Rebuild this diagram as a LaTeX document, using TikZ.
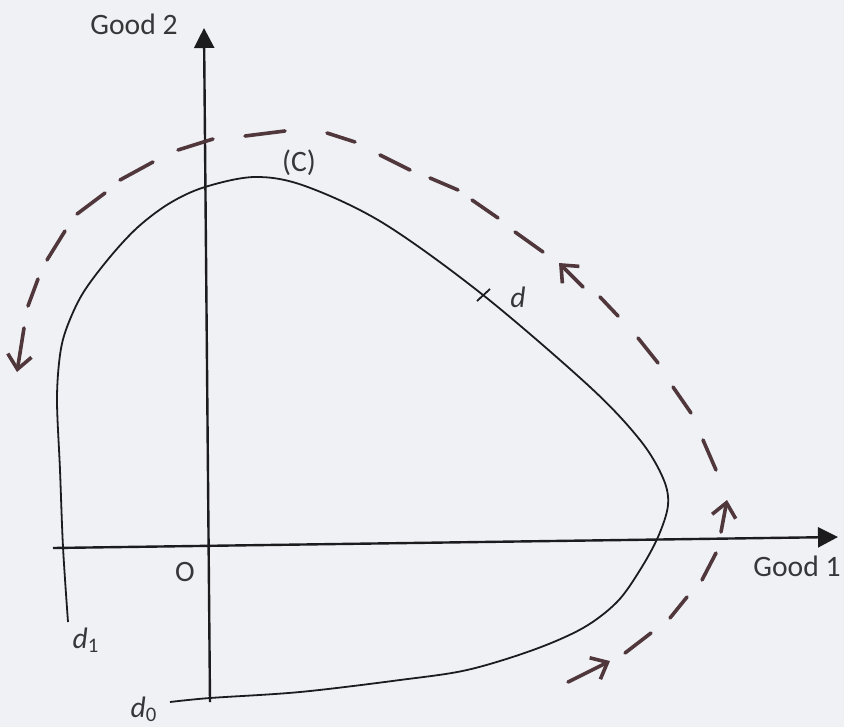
\documentclass[tikz,border=0pt]{standalone}
\usepackage{fontspec}
\setmainfont{Carlito}
\usetikzlibrary{arrows.meta}
\definecolor{paper}{RGB}{240,241,245}
\definecolor{ink}{RGB}{80,55,60}
\definecolor{pen}{RGB}{28,28,30}
\definecolor{lettering}{RGB}{55,55,58}

\begin{document}
\begin{tikzpicture}[x=0.5pt, y=-0.5pt, font=\fontsize{14.8}{17}\selectfont,
  axis/.style={line width=1.2pt, draw=pen, -{Triangle[length=10pt,width=10pt]}},
  budget/.style={line width=0.9pt, draw=pen},
  flow/.style={line width=1.8pt, draw=ink, line cap=round},
  flowtip/.style={flow, -{Straight Barb[length=7pt,width=12pt]}},
  lab/.style={text=lettering, inner sep=0pt}]
  \fill[paper] (0,0) rectangle (844,727);
  \useasboundingbox (0,0) rectangle (844,727);
  % axes
  \draw[axis] (53,548) -- (838,537);
  \draw[axis] (210,702) -- (204,28);
  % the curve (C)
  \draw[budget] plot[smooth, tension=0.55] coordinates {(68,622) (63,547) (60,470) (57,400)
    (60,355) (67,327) (83,293) (110,257) (138,227) (170,203) (205,187) (255,177) (305,186)
    (383,223) (483,295) (590,387) (640,440) (663,478) (668,505)
    (658,537) (640,570) (617,602) (583,628) (533,650) (467,670) (400,680) (300,692) (210,698) (170,702)};
  \draw[budget] (477,301) -- (490,289);
  % direction of motion
  \draw[flow] (625,653) -- (651,633)  (670,618) -- (687,597)  (702,580) -- (716,553)
    (716,470) -- (703,440)  (691,413) -- (673,387)  (658,363) -- (638,338)  (618,316) -- (600,297)
    (543,252) -- (515,232)  (498,218) -- (472,200)  (458,190) -- (430,178)  (410,170) -- (380,155)
    (355,142) -- (327,133)  (285,131) -- (245,136)  (213,139) -- (178,150)  (153,162) -- (120,180)
    (105,193) -- (77,214)  (65,231) -- (47,260)  (38,279) -- (28,306);
  \draw[flowtip] (568,682) -- (610,661);
  \draw[flowtip] (721,532) -- (727,500);
  \draw[flowtip] (583,287) -- (559,263);
  \draw[flowtip] (24,328) -- (17,372);
  % labels
  \node[lab] (goodtwo) at (134,24) {Good 2};
  \node[lab] (goodone) at (797,566) {Good 1};
  \node[lab] (origin) at (185,572) {O};
  \node[lab] (clabel) at (299,163) {(C)};
  \node[lab] (dlabel) at (518,297) {\itshape d};
  \node[lab] (donelabel) at (86,640) {\itshape d\textsubscript{\upshape 1}};
  \node[lab] (dzerolabel) at (144,709) {\itshape d\textsubscript{\upshape 0}};
\end{tikzpicture}
\end{document}
